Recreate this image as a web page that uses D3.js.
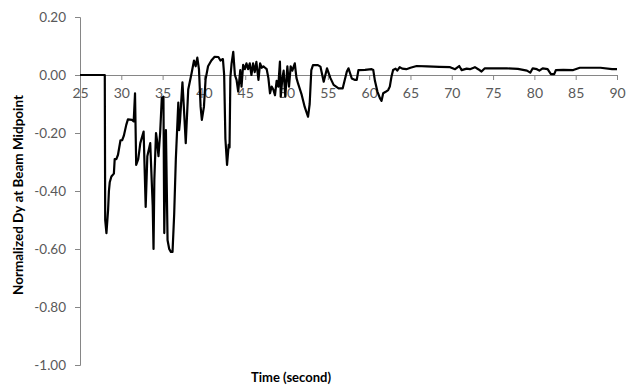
<!DOCTYPE html>
<html>
<head>
<meta charset="utf-8">
<script src="https://cdn.jsdelivr.net/npm/d3@7"></script>
<style>
  body { margin: 0; background: #fff; }
  svg text { font-family: Lato, "Open Sans", sans-serif; }
</style>
</head>
<body>
<svg id="chart"></svg>
<script>
// time (s) and normalized Dy
const times = [
  25, 28.0, 28.05, 28.2, 28.4, 28.5, 28.6, 28.8, 29.1, 29.2,
  29.4, 29.6, 29.9, 30.1, 30.3, 30.6, 30.8, 31.3, 31.5, 31.66,
  31.8, 32.05, 32.3, 32.7, 32.95, 33.15, 33.5, 33.8, 33.9, 34.0,
  34.2, 34.3, 34.5, 34.7, 34.9, 35.1, 35.2, 35.4, 35.6, 35.8,
  36.0, 36.2, 36.4, 36.6, 36.9, 37.0, 37.1, 37.4, 37.55, 37.8,
  38.1, 38.5, 38.8, 39.0, 39.2, 39.4, 39.6, 39.75, 40.0, 40.2,
  40.5, 40.9, 41.3, 41.75, 42.0, 42.3, 42.45, 42.6, 42.8, 43.0,
  43.1, 43.2, 43.35, 43.55, 43.75, 43.95, 44.15, 44.4, 44.55, 44.75,
  44.95, 45.15, 45.35, 45.55, 45.75, 45.95, 46.15, 46.35, 46.6, 46.8,
  47.0, 47.2, 47.4, 47.6, 47.8, 48.0, 48.2, 48.4, 48.6, 48.8,
  49.0, 49.2, 49.3, 49.5, 49.65, 49.85, 50.1, 50.3, 50.5, 50.7,
  51.0, 51.2, 51.4, 51.8, 52.2, 52.6, 52.8, 53.0, 53.2, 53.8,
  54.1, 54.5, 54.9, 55.3, 55.7, 56.3, 56.8, 57.3, 57.5, 57.9,
  58.3, 58.5, 58.7, 59.5, 60.3, 60.5, 60.7, 61.0, 61.3, 61.5,
  61.7, 62.0, 62.3, 62.5, 62.7, 62.9, 63.2, 63.4, 63.7, 64.0,
  64.5, 65.0, 65.75, 67.0, 68.5, 69.8, 70.4, 70.9, 71.2, 71.8,
  72.2, 72.8, 73.2, 73.6, 74.0, 75.0, 76.65, 78.0, 79.1, 79.5,
  79.8, 80.3, 80.6, 81.0, 81.6, 82.0, 82.4, 82.6, 83.5, 84.7,
  85.5, 88.0, 89.4, 90.0
];
const dy = [
  0, 0, -0.50, -0.545, -0.465, -0.40, -0.37, -0.35, -0.34, -0.29,
  -0.29, -0.275, -0.225, -0.225, -0.21, -0.172, -0.153, -0.155, -0.16, -0.063,
  -0.31, -0.29, -0.235, -0.195, -0.455, -0.28, -0.235, -0.45, -0.60, -0.36,
  -0.20, -0.22, -0.28, -0.20, -0.08, -0.075, -0.545, -0.19, -0.57, -0.60,
  -0.61, -0.61, -0.48, -0.29, -0.095, -0.19, -0.16, -0.025, -0.10, -0.235,
  -0.05, 0.005, 0.05, 0.03, 0.06, 0.02, -0.11, -0.155, -0.11, -0.015,
  0.03, 0.05, 0.063, 0.062, 0.05, 0.055, 0.0, -0.22, -0.31, -0.24,
  -0.25, -0.01, 0.04, 0.08, 0.0, -0.017, -0.057, 0.017, -0.04, 0.035,
  0.02, 0.04, 0.02, 0.04, 0.0, 0.04, 0.01, 0.045, -0.017, 0.04,
  0.025, 0.03, 0.025, 0.02, -0.01, -0.063, -0.04, -0.05, -0.07, -0.02,
  -0.04, 0.046, -0.075, -0.01, 0.015, -0.075, 0.03, -0.04, 0.03, 0.015,
  0.04, -0.01, -0.03, -0.065, -0.11, -0.144, -0.10, 0.017, 0.034, 0.034,
  0.029, -0.023, 0.023, -0.01, -0.034, -0.046, -0.046, 0.012, 0.023, -0.012,
  -0.017, -0.017, 0.017, 0.018, 0.02, 0.017, -0.02, -0.057, -0.08, -0.089,
  -0.063, -0.058, -0.052, -0.04, -0.006, 0.017, 0.022, 0.015, 0.027, 0.022,
  0.02, 0.025, 0.031, 0.030, 0.028, 0.027, 0.02, 0.031, 0.017, 0.022,
  0.02, 0.027, 0.02, 0.012, 0.023, 0.023, 0.023, 0.021, 0.015, 0.008,
  0.023, 0.02, 0.015, 0.023, 0.02, 0.003, 0.003, 0.017, 0.018, 0.017,
  0.025, 0.025, 0.02, 0.02
];
const xTicks = [25, 30, 35, 40, 45, 50, 55, 60, 65, 70, 75, 80, 85, 90];
const yTicks = [0.2, 0, -0.2, -0.4, -0.6, -0.8, -1.0];

const width = 627, height = 387;
const margin = {top: 17, right: 10, bottom: 22, left: 80};

const svg = d3.select("#chart")
  .attr("width", width)
  .attr("height", height);

const x = d3.scaleLinear().domain([25, 90]).range([margin.left, 617]);
const y = d3.scaleLinear().domain([-1.0, 0.2]).range([365, margin.top]);

const axisColor = "#868686";
const labelColor = "#595959";

// y axis
const yAxis = svg.append("g")
  .attr("transform", `translate(${margin.left},0)`)
  .call(d3.axisLeft(y).tickValues(yTicks)
        .tickSizeOuter(0).tickSize(5).tickPadding(9));
yAxis.select(".domain").attr("stroke", axisColor);
yAxis.selectAll(".tick line").attr("stroke", axisColor);
yAxis.selectAll(".tick text")
  .attr("fill", labelColor)
  .style("font-size", "13.5px")
  .text(d => d < 0 ? "-" + Math.abs(d).toFixed(2) : d.toFixed(2));

// x axis crosses at zero
const xAxis = svg.append("g")
  .attr("transform", `translate(0,${y(0)})`)
  .call(d3.axisBottom(x).tickValues(xTicks).tickSizeOuter(0).tickSize(5).tickPadding(8));
xAxis.select(".domain").attr("stroke", axisColor);
xAxis.selectAll(".tick line").attr("stroke", axisColor);
xAxis.selectAll(".tick text")
  .attr("fill", labelColor)
  .style("font-size", "14px");

// series
const pts = times.map((t, i) => [t, dy[i]]);
svg.append("path")
  .datum(pts)
  .attr("fill", "none")
  .attr("stroke", "#000")
  .attr("stroke-width", 2.2)
  .attr("stroke-linejoin", "round")
  .attr("d", d3.line().x(d => x(d[0])).y(d => y(d[1])));

// titles
svg.append("text")
  .attr("x", 291)
  .attr("y", 382)
  .attr("text-anchor", "middle")
  .style("font-size", "13px")
  .style("font-weight", "bold")
  .attr("fill", "#000")
  .text("Time (second)");

svg.append("text")
  .attr("transform", "translate(23,195) rotate(-90)")
  .attr("text-anchor", "middle")
  .style("font-size", "13.5px")
  .style("font-weight", "bold")
  .attr("fill", "#000")
  .text("Normalized Dy at Beam Midpoint");
</script>
</body>
</html>
